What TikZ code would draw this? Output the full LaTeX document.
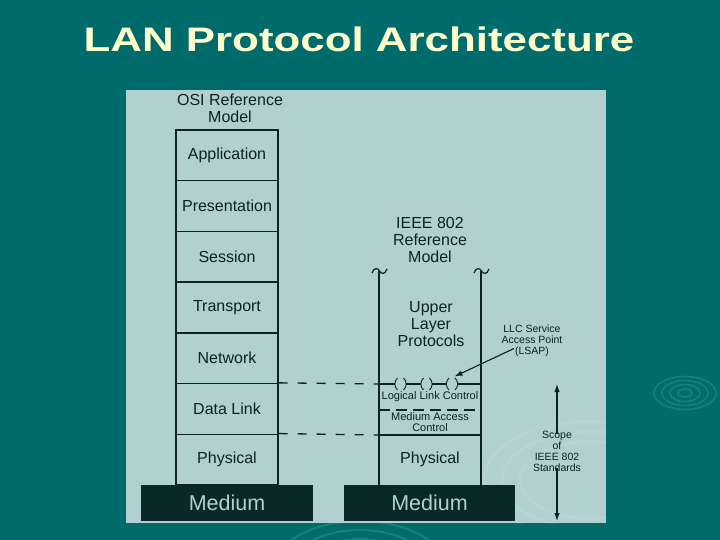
\documentclass[tikz,border=0pt]{standalone}
\usepackage{fontspec}
\setmainfont{Liberation Sans}
\usetikzlibrary{arrows.meta}
\definecolor{bgteal}{RGB}{0,107,107}
\definecolor{panel}{RGB}{178,208,208}
\definecolor{ink}{RGB}{14,34,34}
\definecolor{mediumfill}{RGB}{10,40,40}
\definecolor{titlecol}{RGB}{255,255,204}
\definecolor{ripple}{RGB}{22,128,126}
\newcommand\wavyat[1]{\draw[ink,line width=1.2pt,shift={(#1,271)}] (-7,2) .. controls (-5,-4) and (-1,-3) .. (0.5,0) .. controls (2,3) and (6,4) .. (8,-2);}
\newcommand\sapat[1]{%
  \draw[ink,line width=0.9pt,shift={(#1,384)}] (-3,-6) .. controls (-6.5,-3) and (-6.5,3) .. (-3,6);
  \draw[ink,line width=0.9pt,shift={(#1,384)}] (3,-6) .. controls (6.5,-3) and (6.5,3) .. (3,6);}
\begin{document}
\begin{tikzpicture}[x=1pt,y=-1pt,
  layerbox/.style={draw=ink, line width=1.4pt, minimum width=102pt, minimum height=50.7pt, inner sep=0pt, text=ink, font=\fontsize{16}{17}\selectfont},
  bigtext/.style={text=ink, align=center, inner sep=0pt, font=\fontsize{16}{17}\selectfont},
  smalltext/.style={text=ink, align=center, inner sep=0pt, font=\fontsize{11}{11}\selectfont},
  tinytext/.style={text=ink, align=center, inner sep=0pt, font=\fontsize{10.5}{11}\selectfont},
  mediumbox/.style={fill=mediumfill, minimum height=36pt, inner sep=0pt, text=panel, font=\fontsize{21.5}{24}\selectfont},
  colline/.style={ink, line width=1.4pt},
  dashline/.style={ink, line width=1.3pt, dash pattern=on 9pt off 10pt},
  macdash/.style={ink, line width=1.3pt, dash pattern=on 11pt off 6pt},
  arr/.style={ink, line width=1.1pt, -{Latex[length=8pt,width=5.5pt]}}
]
\fill[bgteal] (0,0) rectangle (720,540);
\useasboundingbox (0,0) rectangle (720,540);
% background ripples
\foreach \r/\s in {7/4,15/8.5,23/12.5,31/16.5}
  \draw[ripple, line width=1.6pt] (685,393) ellipse [x radius=\r pt, y radius=\s pt];
\begin{scope}
\clip (0,523) rectangle (720,540);
\foreach \r in {60,75,90}
  \draw[ripple, line width=2pt] (360,575) ellipse [x radius=\r pt, y radius=0.6*\r pt];
\end{scope}
% title
\node[anchor=base, text=titlecol, inner sep=0pt, font=\fontsize{34}{40}\bfseries\selectfont] (title) at (359,52) {\scalebox{1.29}[1]{LAN Protocol Architecture}};
% panel
\fill[panel] (126,90) rectangle (606,523);
\begin{scope}
\clip (126,90) rectangle (606,523);
\foreach \r in {70,88,106}
  \draw[white, opacity=0.07, line width=3pt] (590,480) ellipse [x radius=\r pt, y radius=0.55*\r pt];
\end{scope}
% OSI column
\node[bigtext] (osititle) at (230,108) {OSI Reference\\Model};
\node[layerbox] (app) at (227,155.4) {Application};
\node[layerbox] (pres) at (227,206.1) {Presentation};
\node[layerbox] (sess) at (227,256.8) {Session};
\node[layerbox] (trans) at (227,307.5) {Transport};
\node[layerbox] (net) at (227,358.2) {Network};
\node[layerbox] (dl) at (227,408.9) {Data Link};
\node[layerbox] (phys) at (227,459.6) {Physical};
% IEEE column
\node[bigtext] (ieeetitle) at (430,240) {IEEE 802\\Reference\\Model};
\coordinate (ltop) at (379,271);
\coordinate (rtop) at (481,271);
\coordinate (lbot) at (379,485);
\coordinate (rbot) at (481,485);
\coordinate (lllc) at (379,384);
\coordinate (rllc) at (481,384);
\coordinate (lmac) at (379,410);
\coordinate (rmac) at (481,410);
\coordinate (lphy) at (379,435);
\coordinate (rphy) at (481,435);
\draw[colline] (ltop) -- (lbot);
\draw[colline] (rtop) -- (rbot);
\wavyat{379}
\wavyat{481}
\node[bigtext] (upper) at (431,324) {Upper\\Layer\\Protocols};
% LLC line with SAPs
\coordinate (sap1) at (400.5,384);
\coordinate (sap2) at (426.5,384);
\coordinate (sap3) at (452,384);
\draw[colline, line width=1.2pt] (lllc) -- (395,384) (406,384) -- (421,384) (432,384) -- (446.5,384) (457.5,384) -- (rllc);
\sapat{400.5}
\sapat{426.5}
\sapat{452}
\node[smalltext] (llc) at (430,397) {Logical Link Control};
\draw[macdash] (lmac) -- (rmac);
\node[smalltext] (mac) at (430,422.5) {Medium Access\\Control};
\draw[colline] (lphy) -- (rphy);
\node[bigtext] (phys2) at (430,459.5) {Physical};
% dashed correspondences
\draw[dashline] (dl.north east) -- (lllc);
\draw[dashline] (phys.north east) -- (lphy);
% media
\node[mediumbox, minimum width=172pt] (med1) at (227,503) {Medium};
\node[mediumbox, minimum width=171pt] (med2) at (429.5,503) {Medium};
% LSAP label and arrow
\node[tinytext] (lsap) at (532,341) {LLC Service\\Access Point\\(LSAP)};
\coordinate (lsapfoot) at (514,348.5);
\coordinate (sap3tip) at (454.5,376.5);
\draw[arr] (lsapfoot) -- (sap3tip);
% scope
\node[tinytext] (scope) at (557,451) {Scope\\of\\IEEE 802\\Standards};
\coordinate (scopetop) at (557,384);
\coordinate (scopebot) at (557,521);
\draw[arr] ([yshift=-3pt]scope.north) -- (scopetop);
\draw[arr] ([yshift=3pt]scope.south) -- (scopebot);
\end{tikzpicture}
\end{document}
